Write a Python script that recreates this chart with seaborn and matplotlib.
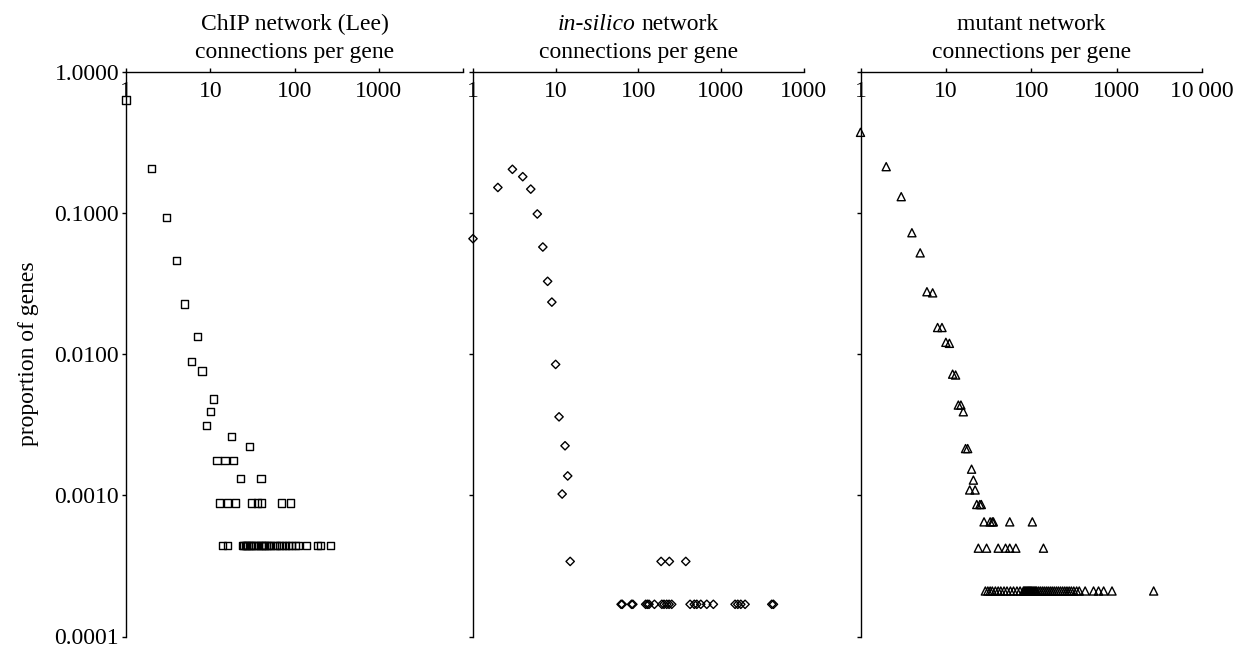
import numpy as np
import pandas as pd
import matplotlib
matplotlib.use("Agg")
import matplotlib.pyplot as plt
import seaborn as sns
from matplotlib.ticker import NullLocator

# ---------------- data ----------------
# ChIP network (Lee): connections per gene vs proportion of genes
chip_deg = [1, 2, 3, 4, 5, 6, 7, 8, 9, 10, 11, 18, 29,
            12, 15, 19, 23, 40,
            13, 16, 20, 31, 36, 41, 70, 90,
            14, 16, 24, 25, 26, 27, 28, 30, 31, 33, 35, 37, 40, 42, 44, 46, 49,
            52, 57, 61, 66, 71, 78, 85, 93, 102, 111, 140, 186, 204, 268]
chip_prop = [0.628, 0.206, 0.0927, 0.0462, 0.0226, 0.0088, 0.01324, 0.00757, 0.0031,
             0.0039, 0.0048, 0.0026, 0.00222,
             0.00176, 0.00176, 0.00176, 0.00132, 0.00132,
             0.00088, 0.00088, 0.00088, 0.00088, 0.00088, 0.00088, 0.00088, 0.00088,
             0.00044, 0.00044, 0.00044, 0.00044, 0.00044, 0.00044, 0.00044, 0.00044,
             0.00044, 0.00044, 0.00044, 0.00044, 0.00044, 0.00044, 0.00044, 0.00044,
             0.00044, 0.00044, 0.00044, 0.00044, 0.00044, 0.00044, 0.00044, 0.00044,
             0.00044, 0.00044, 0.00044, 0.00044, 0.00044, 0.00044, 0.00044]

# in-silico network
sil_deg = [1, 2, 3, 4, 5, 6, 7, 8, 9, 10, 11, 12, 13, 14, 15,
           189, 238, 376,
           62, 64, 83, 86, 123, 129, 135, 157, 193, 205, 221, 236, 254,
           424, 477, 511, 571, 675, 811, 1486, 1602, 1742, 1963, 4130, 4325]
sil_prop = [0.0655, 0.151, 0.203, 0.18, 0.147, 0.098, 0.0572, 0.0327, 0.0233,
            0.00844, 0.00359, 0.00102, 0.00224, 0.00137, 0.00034,
            0.00034, 0.00034, 0.00034,
            0.000169, 0.000169, 0.000169, 0.000169, 0.000169, 0.000169, 0.000169,
            0.000169, 0.000169, 0.000169, 0.000169, 0.000169, 0.000169,
            0.000169, 0.000169, 0.000169, 0.000169, 0.000169, 0.000169, 0.000169,
            0.000169, 0.000169, 0.000169, 0.000169, 0.000169]

# mutant network
mut_deg = [1, 2, 3, 4, 5, 6, 7, 8, 9, 10, 11, 12, 13, 14, 15, 16, 17, 18, 20, 21,
           19, 22, 23, 25, 26,
           28, 33, 35, 36, 56, 103,
           24, 30, 41, 50, 56, 66, 139,
           29, 31, 33, 35, 38, 41, 44, 48, 52, 57, 62, 68, 74, 81, 83, 85, 87, 89,
           91, 93, 95, 97, 99, 101, 104, 107, 110, 113, 116, 122, 128, 135, 142,
           150, 158, 167, 176, 186, 197, 208, 220, 233, 247, 262, 278, 295, 315,
           340, 365, 428, 537, 614, 705, 883, 2716]
mut_prop_top = [0.371, 0.212, 0.13, 0.0722, 0.052, 0.0276, 0.0271, 0.0154, 0.0154,
                0.0121, 0.0119, 0.0072, 0.0071, 0.00435, 0.00435, 0.0039, 0.00214,
                0.00214, 0.00153, 0.00128,
                0.00109, 0.00109, 0.00086, 0.00086, 0.00086,
                0.000648, 0.000648, 0.000648, 0.000648, 0.000648, 0.000648,
                0.000422, 0.000422, 0.000422, 0.000422, 0.000422, 0.000422, 0.000422]
mut_prop = mut_prop_top + [0.00021] * (len(mut_deg) - len(mut_prop_top))

x_ticks = [1, 10, 100, 1000, 10000]
x_labels_chip = ["1", "10", "100", "1000", ""]
x_labels_sil = ["1", "10", "100", "1000", "1000"]
x_labels_mut = ["1", "10", "100", "1000", "10\u2009000"]
y_ticks = [0.0001, 0.001, 0.01, 0.1, 1.0]
y_labels = ["0.0001", "0.0010", "0.0100", "0.1000", "1.0000"]

# ---------------- style ----------------
sns.set_theme(style="ticks", rc={"axes.edgecolor": "black", "xtick.color": "black",
                                 "ytick.color": "black", "text.color": "black",
                                 "axes.labelcolor": "black"})
plt.rcParams["font.family"] = ["Liberation Serif", "DejaVu Serif"]
plt.rcParams["font.size"] = 17

W, H = 1245, 650
fig = plt.figure(figsize=(W / 100, H / 100), dpi=100)

def px_axes(left, right, top=71.5, bottom=636.5):
    return fig.add_axes([left / W, (H - bottom) / H, (right - left) / W, (bottom - top) / H])

ax1 = px_axes(126, 463)
ax2 = px_axes(473, 803.5)
ax3 = px_axes(860.5, 1202)

panels = [
    (ax1, chip_deg, chip_prop, "s", 27, x_labels_chip),
    (ax2, sil_deg, sil_prop, "D", 18, x_labels_sil),
    (ax3, mut_deg, mut_prop, "^", 34, x_labels_mut),
]

for ax, xd, yd, mk, sz, xl in panels:
    df = pd.DataFrame({"deg": xd, "prop": yd})
    sns.scatterplot(data=df, x="deg", y="prop", ax=ax, marker=mk, s=sz,
                    facecolor="none", edgecolor="black", linewidth=1.0,
                    clip_on=False, zorder=3)
    ax.set_xscale("log")
    ax.set_yscale("log")
    ax.set_xlim(1, 10000)
    ax.set_ylim(0.0001, 1.0)
    ax.set_xlabel("")
    ax.set_ylabel("")
    for s in ["bottom", "right"]:
        ax.spines[s].set_visible(False)
    for s in ["top", "left"]:
        ax.spines[s].set_linewidth(1.0)
    ax.set_xticks(x_ticks, xl)
    ax.set_yticks(y_ticks, y_labels if ax is ax1 else [""] * 5)
    ax.yaxis.set_minor_locator(NullLocator())
    ax.xaxis.set_minor_locator(NullLocator())
    ax.tick_params(axis="x", top=True, bottom=False, labeltop=True, labelbottom=False,
                   direction="out", length=3, width=1, pad=-9.5, labelsize=17)
    ax.tick_params(axis="y", left=True, direction="out", length=3, width=1, pad=2,
                   labelsize=17)
    for lab in ax.get_xticklabels():
        lab.set_verticalalignment("top")
    ax.annotate("connections per gene", xy=(0.5, 1), xycoords="axes fraction",
                xytext=(0, 19 * 0.72), textcoords="offset points",
                ha="center", va="center", fontsize=17)

ax1.set_ylabel("proportion of genes", fontsize=17, labelpad=11)

L1 = 47.5 * 0.72
ax1.annotate("ChIP network (Lee)", xy=(0.5, 1), xycoords="axes fraction",
             xytext=(0, L1), textcoords="offset points",
             ha="center", va="center", fontsize=17)
ax3.annotate("mutant network", xy=(0.5, 1), xycoords="axes fraction",
             xytext=(0, L1), textcoords="offset points",
             ha="center", va="center", fontsize=17)

# in-silico title with mixed italic
gap = 4.2
t1 = ax2.annotate("in-silico", xy=(0.5, 1), xycoords="axes fraction",
                  xytext=(0, L1), textcoords="offset points",
                  ha="right", va="center", fontsize=17, style="italic")
t2 = ax2.annotate("network", xy=(0.5, 1), xycoords="axes fraction",
                  xytext=(gap, L1), textcoords="offset points",
                  ha="left", va="center", fontsize=17)
fig.canvas.draw()
r = fig.canvas.get_renderer()
w1 = t1.get_window_extent(r).width * 72 / 100
w2 = t2.get_window_extent(r).width * 72 / 100
total = w1 + gap + w2
anchor = -total / 2 + w1
t1.xyann = (anchor, L1)
t2.xyann = (anchor + gap, L1)

fig.savefig("out.png", dpi=100)
